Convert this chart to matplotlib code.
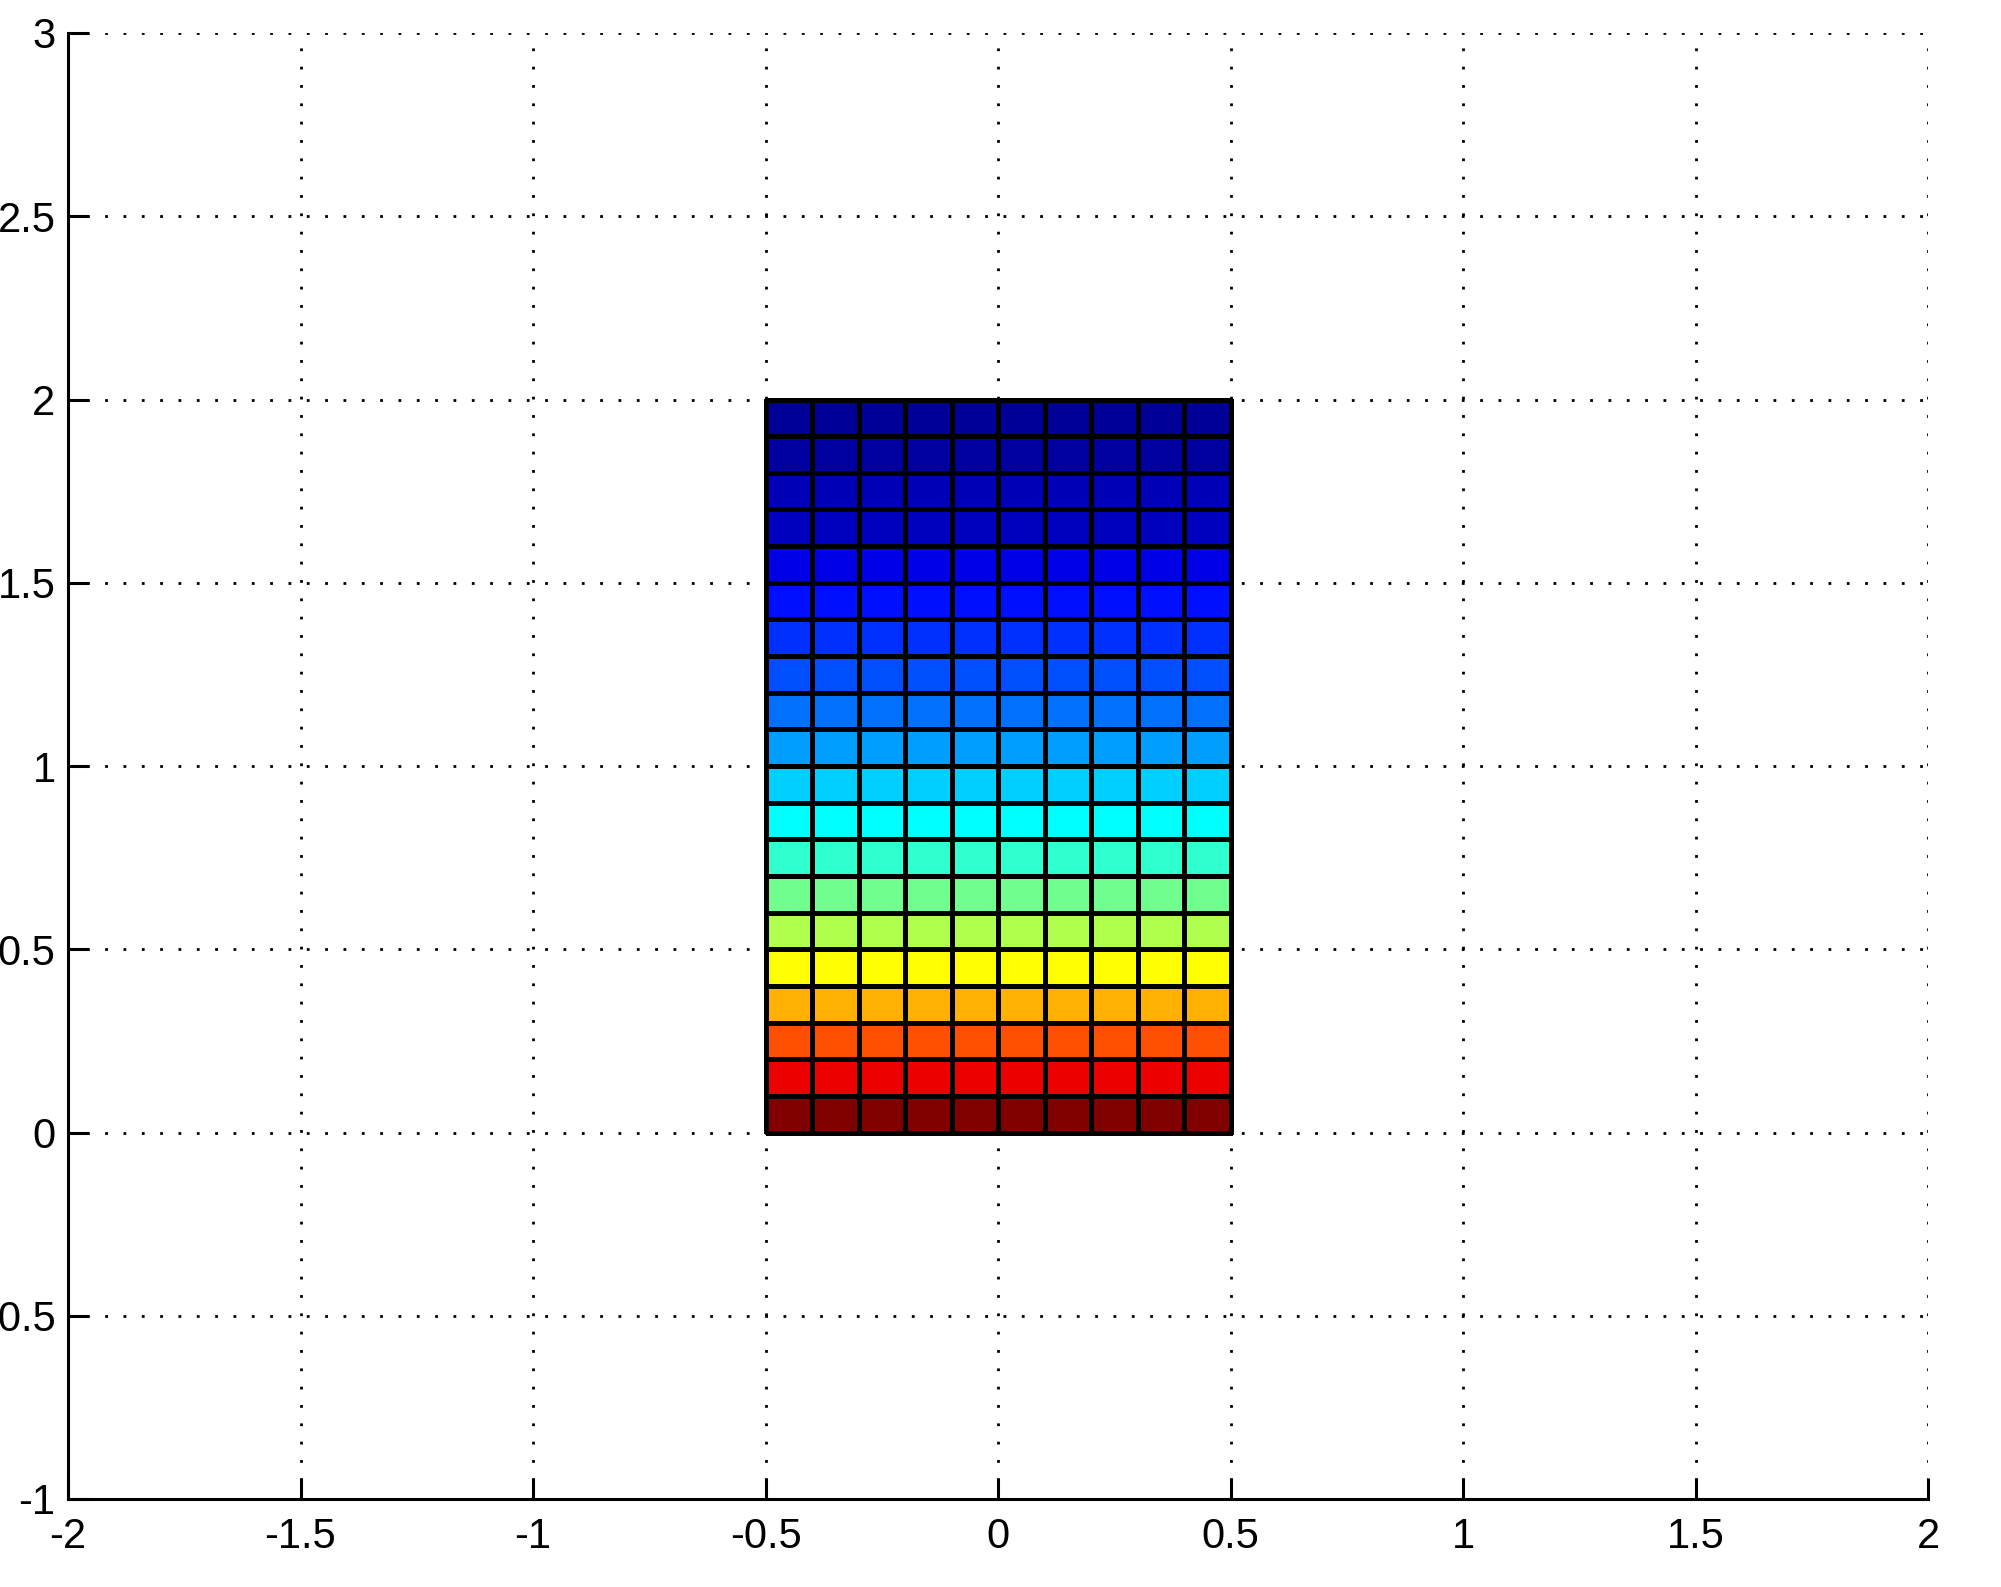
import numpy as np
import matplotlib
matplotlib.use('Agg')
import matplotlib.pyplot as plt
from matplotlib.colors import LinearSegmentedColormap
from matplotlib.ticker import FuncFormatter

# grid edges of the patch
x_edges = [-0.5, -0.4, -0.3, -0.2, -0.1, 0.0, 0.1, 0.2, 0.3, 0.4, 0.5]
y_edges = [0.0, 0.1, 0.2, 0.3, 0.4, 0.5, 0.6, 0.7, 0.8, 0.9, 1.0,
           1.1, 1.2, 1.3, 1.4, 1.5, 1.6, 1.7, 1.8, 1.9, 2.0]
# colour value of each row, bottom to top (matlab jet scale)
row_values = [1.0, 0.8925, 0.7975, 0.7025, 0.625, 0.5475, 0.485, 0.4225, 0.375, 0.3275,
              0.28, 0.235, 0.2025, 0.1725, 0.14, 0.1025, 0.0625, 0.055, 0.0325, 0.025]

x_ticks = [-2, -1.5, -1, -0.5, 0, 0.5, 1, 1.5, 2]
y_ticks = [-1, -0.5, 0, 0.5, 1, 1.5, 2, 2.5, 3]

# matlab style jet
mjet = LinearSegmentedColormap('mjet', {
    'red':   [(0, 0, 0), (3/8, 0, 0), (5/8, 1, 1), (7/8, 1, 1), (1, 0.5, 0.5)],
    'green': [(0, 0, 0), (1/8, 0, 0), (3/8, 1, 1), (5/8, 1, 1), (7/8, 0, 0), (1, 0, 0)],
    'blue':  [(0, 0.5, 0.5), (1/8, 1, 1), (3/8, 1, 1), (5/8, 0, 0), (1, 0, 0)],
}, N=1024)

plt.rcParams['font.family'] = ['Liberation Sans', 'DejaVu Sans']
plt.rcParams['axes.unicode_minus'] = False

fig = plt.figure(figsize=(20.01, 15.87), dpi=100)
ax = fig.add_axes([68/2001, 1 - 1499/1587, (1928-68)/2001, (1499-33)/1587])

C = np.tile(np.array(row_values)[:, None], (1, len(x_edges) - 1))
ax.pcolormesh(x_edges, y_edges, C, cmap=mjet, vmin=0, vmax=1,
              edgecolors='k', linewidth=2.4, zorder=3)

ax.set_xlim(-2, 2)
ax.set_ylim(-1, 3)
ax.set_xticks(x_ticks)
ax.set_yticks(y_ticks)
ax.xaxis.set_major_formatter(FuncFormatter(lambda v, p: '%g' % v))
ax.yaxis.set_major_formatter(FuncFormatter(lambda v, p: '%g' % v))

ax.grid(True, color='k', linestyle=(0, (1, 5.6)), linewidth=2.0, zorder=0)
ax.set_axisbelow(True)

ax.spines['top'].set_visible(False)
ax.spines['right'].set_visible(False)
ax.spines['left'].set_linewidth(2.2)
ax.spines['bottom'].set_linewidth(2.2)
ax.tick_params(direction='in', length=15, width=2.2, labelsize=30)
ax.tick_params(axis='y', pad=9)
ax.tick_params(axis='x', pad=13)

fig.savefig('out.png', dpi=100)
